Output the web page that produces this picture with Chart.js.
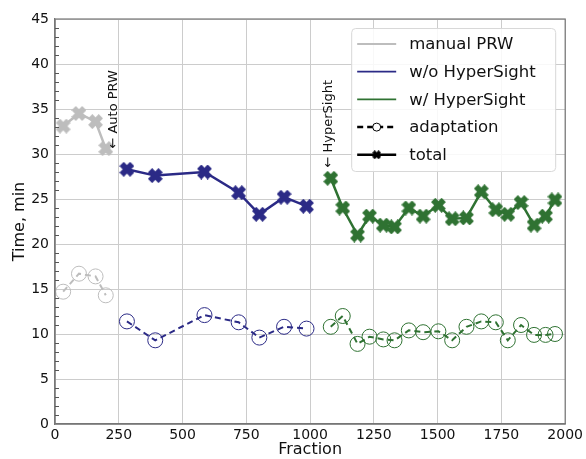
<!DOCTYPE html>
<html>
<head>
<meta charset="utf-8">
<script src="https://cdn.jsdelivr.net/npm/chart.js@4"></script>
<style>
  body { margin: 0; background: #fff; }
  canvas { display: block; }
</style>
</head>
<body>
<canvas id="chart" width="586" height="459"></canvas>
<script>
// fractions and times (min)
const manualFx = [32, 94, 159, 199]
const manualTotal = [33.1, 34.5, 33.6, 30.6]
const manualAdapt = [14.7, 16.7, 16.4, 14.3]

const woFx = [282, 393, 586, 720, 801, 898, 986]
const woTotal = [28.3, 27.6, 28.0, 25.7, 23.3, 25.2, 24.2]
const woAdapt = [11.4, 9.3, 12.1, 11.3, 9.6, 10.8, 10.6]

const wFx = [1081, 1128, 1186, 1233, 1287, 1331, 1387, 1443, 1503, 1557, 1613, 1671, 1728, 1775, 1827, 1878, 1923, 1960]
const wTotal = [27.3, 24.0, 21.0, 23.1, 22.1, 21.9, 24.0, 23.1, 24.3, 22.8, 22.9, 25.8, 23.8, 23.3, 24.6, 22.1, 23.1, 24.9]
const wAdapt = [10.8, 12.0, 8.9, 9.7, 9.4, 9.3, 10.4, 10.2, 10.3, 9.3, 10.8, 11.4, 11.3, 9.3, 11.0, 9.9, 9.9, 10.0]

const xTicks = [0, 250, 500, 750, 1000, 1250, 1500, 1750, 2000]
const yTicks = [0, 5, 10, 15, 20, 25, 30, 35, 40, 45]

const notes = [
  { text: '\u2190 Auto PRW', x: 230, y: 30.6 },
  { text: '\u2190 HyperSight', x: 1074, y: 28.5 }
]

const GRAY = '#bdbdbd'
const BLUE = '#2b2a86'
const GREEN = '#2f7232'
const FONT = 'DejaVu Sans'

function xMarker (color, box) {
  const c = document.createElement('canvas')
  c.width = box
  c.height = box
  const g = c.getContext('2d')
  const s = box * 0.5, w = box * 0.2
  const pts = [[w, s], [w, w], [s, w], [s, -w], [w, -w], [w, -s], [-w, -s], [-w, -w], [-s, -w], [-s, w], [-w, w], [-w, s]]
  g.translate(box / 2, box / 2)
  g.rotate(Math.PI / 4)
  g.beginPath()
  pts.forEach((p, i) => i ? g.lineTo(p[0], p[1]) : g.moveTo(p[0], p[1]))
  g.closePath()
  g.fillStyle = color
  g.fill()
  return c
}

const pairs = (xs, ys) => xs.map((x, i) => ({ x, y: ys[i] }))

function totalSet (label, xs, ys, color) {
  return {
    label,
    data: pairs(xs, ys),
    borderColor: color,
    backgroundColor: color,
    borderWidth: 2.5,
    pointStyle: xMarker(color, 15),
    pointRadius: 7,
    pointHoverRadius: 7
  }
}

function adaptSet (label, xs, ys, color) {
  return {
    label,
    data: pairs(xs, ys),
    borderColor: color,
    backgroundColor: 'rgba(0,0,0,0)',
    borderWidth: 2,
    borderDash: [6, 4],
    pointStyle: 'circle',
    pointRadius: 7.5,
    pointBorderWidth: 1,
    pointBorderColor: color,
    pointBackgroundColor: 'rgba(0,0,0,0)'
  }
}

const extras = {
  id: 'extras',
  afterDraw (chart) {
    const { ctx, chartArea: a, scales: { x, y } } = chart
    ctx.save()
    // full frame
    ctx.strokeStyle = '#777'
    ctx.lineWidth = 1.2
    ctx.strokeRect(a.left, a.top, a.right - a.left, a.bottom - a.top)
    // minor ticks on y
    ctx.strokeStyle = '#555'
    ctx.lineWidth = 1
    for (let v = 1; v < 45; v++) {
      if (v % 5 === 0) continue
      const py = Math.round(y.getPixelForValue(v)) + 0.5
      ctx.beginPath()
      ctx.moveTo(a.left, py)
      ctx.lineTo(a.left + 4, py)
      ctx.stroke()
    }
    // rotated notes
    ctx.fillStyle = '#111'
    ctx.font = '13px "' + FONT + '"'
    ctx.textBaseline = 'middle'
    ctx.textAlign = 'left'
    notes.forEach(n => {
      ctx.save()
      ctx.translate(x.getPixelForValue(n.x), y.getPixelForValue(n.y))
      ctx.rotate(-Math.PI / 2)
      ctx.fillText(n.text, 0, 0)
      ctx.restore()
    })
    // legend
    const lx = a.right - 214, ly = a.top + 9, lw = 204, lh = 143
    ctx.fillStyle = 'rgba(255,255,255,0.85)'
    ctx.strokeStyle = '#d8d8d8'
    ctx.beginPath()
    ctx.roundRect(lx + 0.5, ly + 0.5, lw, lh, 4)
    ctx.fill()
    ctx.stroke()
    const rows = [
      { text: 'manual PRW', color: GRAY },
      { text: 'w/o HyperSight', color: BLUE },
      { text: 'w/ HyperSight', color: GREEN },
      { text: 'adaptation', color: '#000', dash: true },
      { text: 'total', color: '#000', cross: true }
    ]
    ctx.font = '16.5px "' + FONT + '"'
    rows.forEach((r, i) => {
      const ry = ly + 16 + i * 27.7
      ctx.strokeStyle = r.color
      ctx.lineWidth = r.dash || r.cross ? 2.5 : 1.8
      ctx.setLineDash(r.dash ? [6, 4] : [])
      ctx.beginPath()
      ctx.moveTo(lx + 6, ry)
      ctx.lineTo(lx + 45, ry)
      ctx.stroke()
      ctx.setLineDash([])
      if (r.dash) {
        ctx.fillStyle = '#fff'
        ctx.lineWidth = 1
        ctx.beginPath()
        ctx.arc(lx + 25.5, ry, 4, 0, Math.PI * 2)
        ctx.fill()
        ctx.stroke()
      }
      if (r.cross) {
        ctx.drawImage(xMarker('#000', 9), lx + 21, ry - 4.5)
      }
      ctx.fillStyle = '#111'
      ctx.textAlign = 'left'
      ctx.fillText(r.text, lx + 58, ry + 1)
    })
    ctx.restore()
  }
}

new Chart(document.getElementById('chart'), {
  type: 'line',
  data: {
    datasets: [
      totalSet('manual PRW', manualFx, manualTotal, GRAY),
      adaptSet('manual PRW adaptation', manualFx, manualAdapt, GRAY),
      totalSet('w/o HyperSight', woFx, woTotal, BLUE),
      adaptSet('w/o HyperSight adaptation', woFx, woAdapt, BLUE),
      totalSet('w/ HyperSight', wFx, wTotal, GREEN),
      adaptSet('w/ HyperSight adaptation', wFx, wAdapt, GREEN)
    ]
  },
  options: {
    responsive: false,
    animation: false,
    devicePixelRatio: 1,
    layout: { padding: { top: 19, right: 19, left: 0, bottom: 0 } },
    plugins: {
      legend: { display: false },
      tooltip: { enabled: false }
    },
    scales: {
      x: {
        type: 'linear',
        min: 0,
        max: 2000,
        afterBuildTicks: s => { s.ticks = xTicks.map(v => ({ value: v })) },
        afterFit: s => { s.height = 35 },
        ticks: { color: '#111', font: { family: FONT, size: 14 }, padding: 3, maxRotation: 0, callback: v => String(v) },
        grid: { color: '#cccccc', drawTicks: false },
        border: { color: '#777', width: 1.2 },
        title: { display: true, text: 'Fraction', color: '#111', font: { family: FONT, size: 16 }, padding: { top: 0, bottom: 0 } }
      },
      y: {
        min: 0,
        max: 45,
        afterBuildTicks: s => { s.ticks = yTicks.map(v => ({ value: v })) },
        afterFit: s => { s.width = 55 },
        ticks: { color: '#111', font: { family: FONT, size: 14 }, padding: 6, callback: v => String(v) },
        grid: { color: '#cccccc', drawTicks: false },
        border: { color: '#777', width: 1.2 },
        title: { display: true, text: 'Time, min', color: '#111', font: { family: FONT, size: 16 }, padding: { top: 10, bottom: 0 } }
      }
    }
  },
  plugins: [extras]
})
</script>
</body>
</html>
